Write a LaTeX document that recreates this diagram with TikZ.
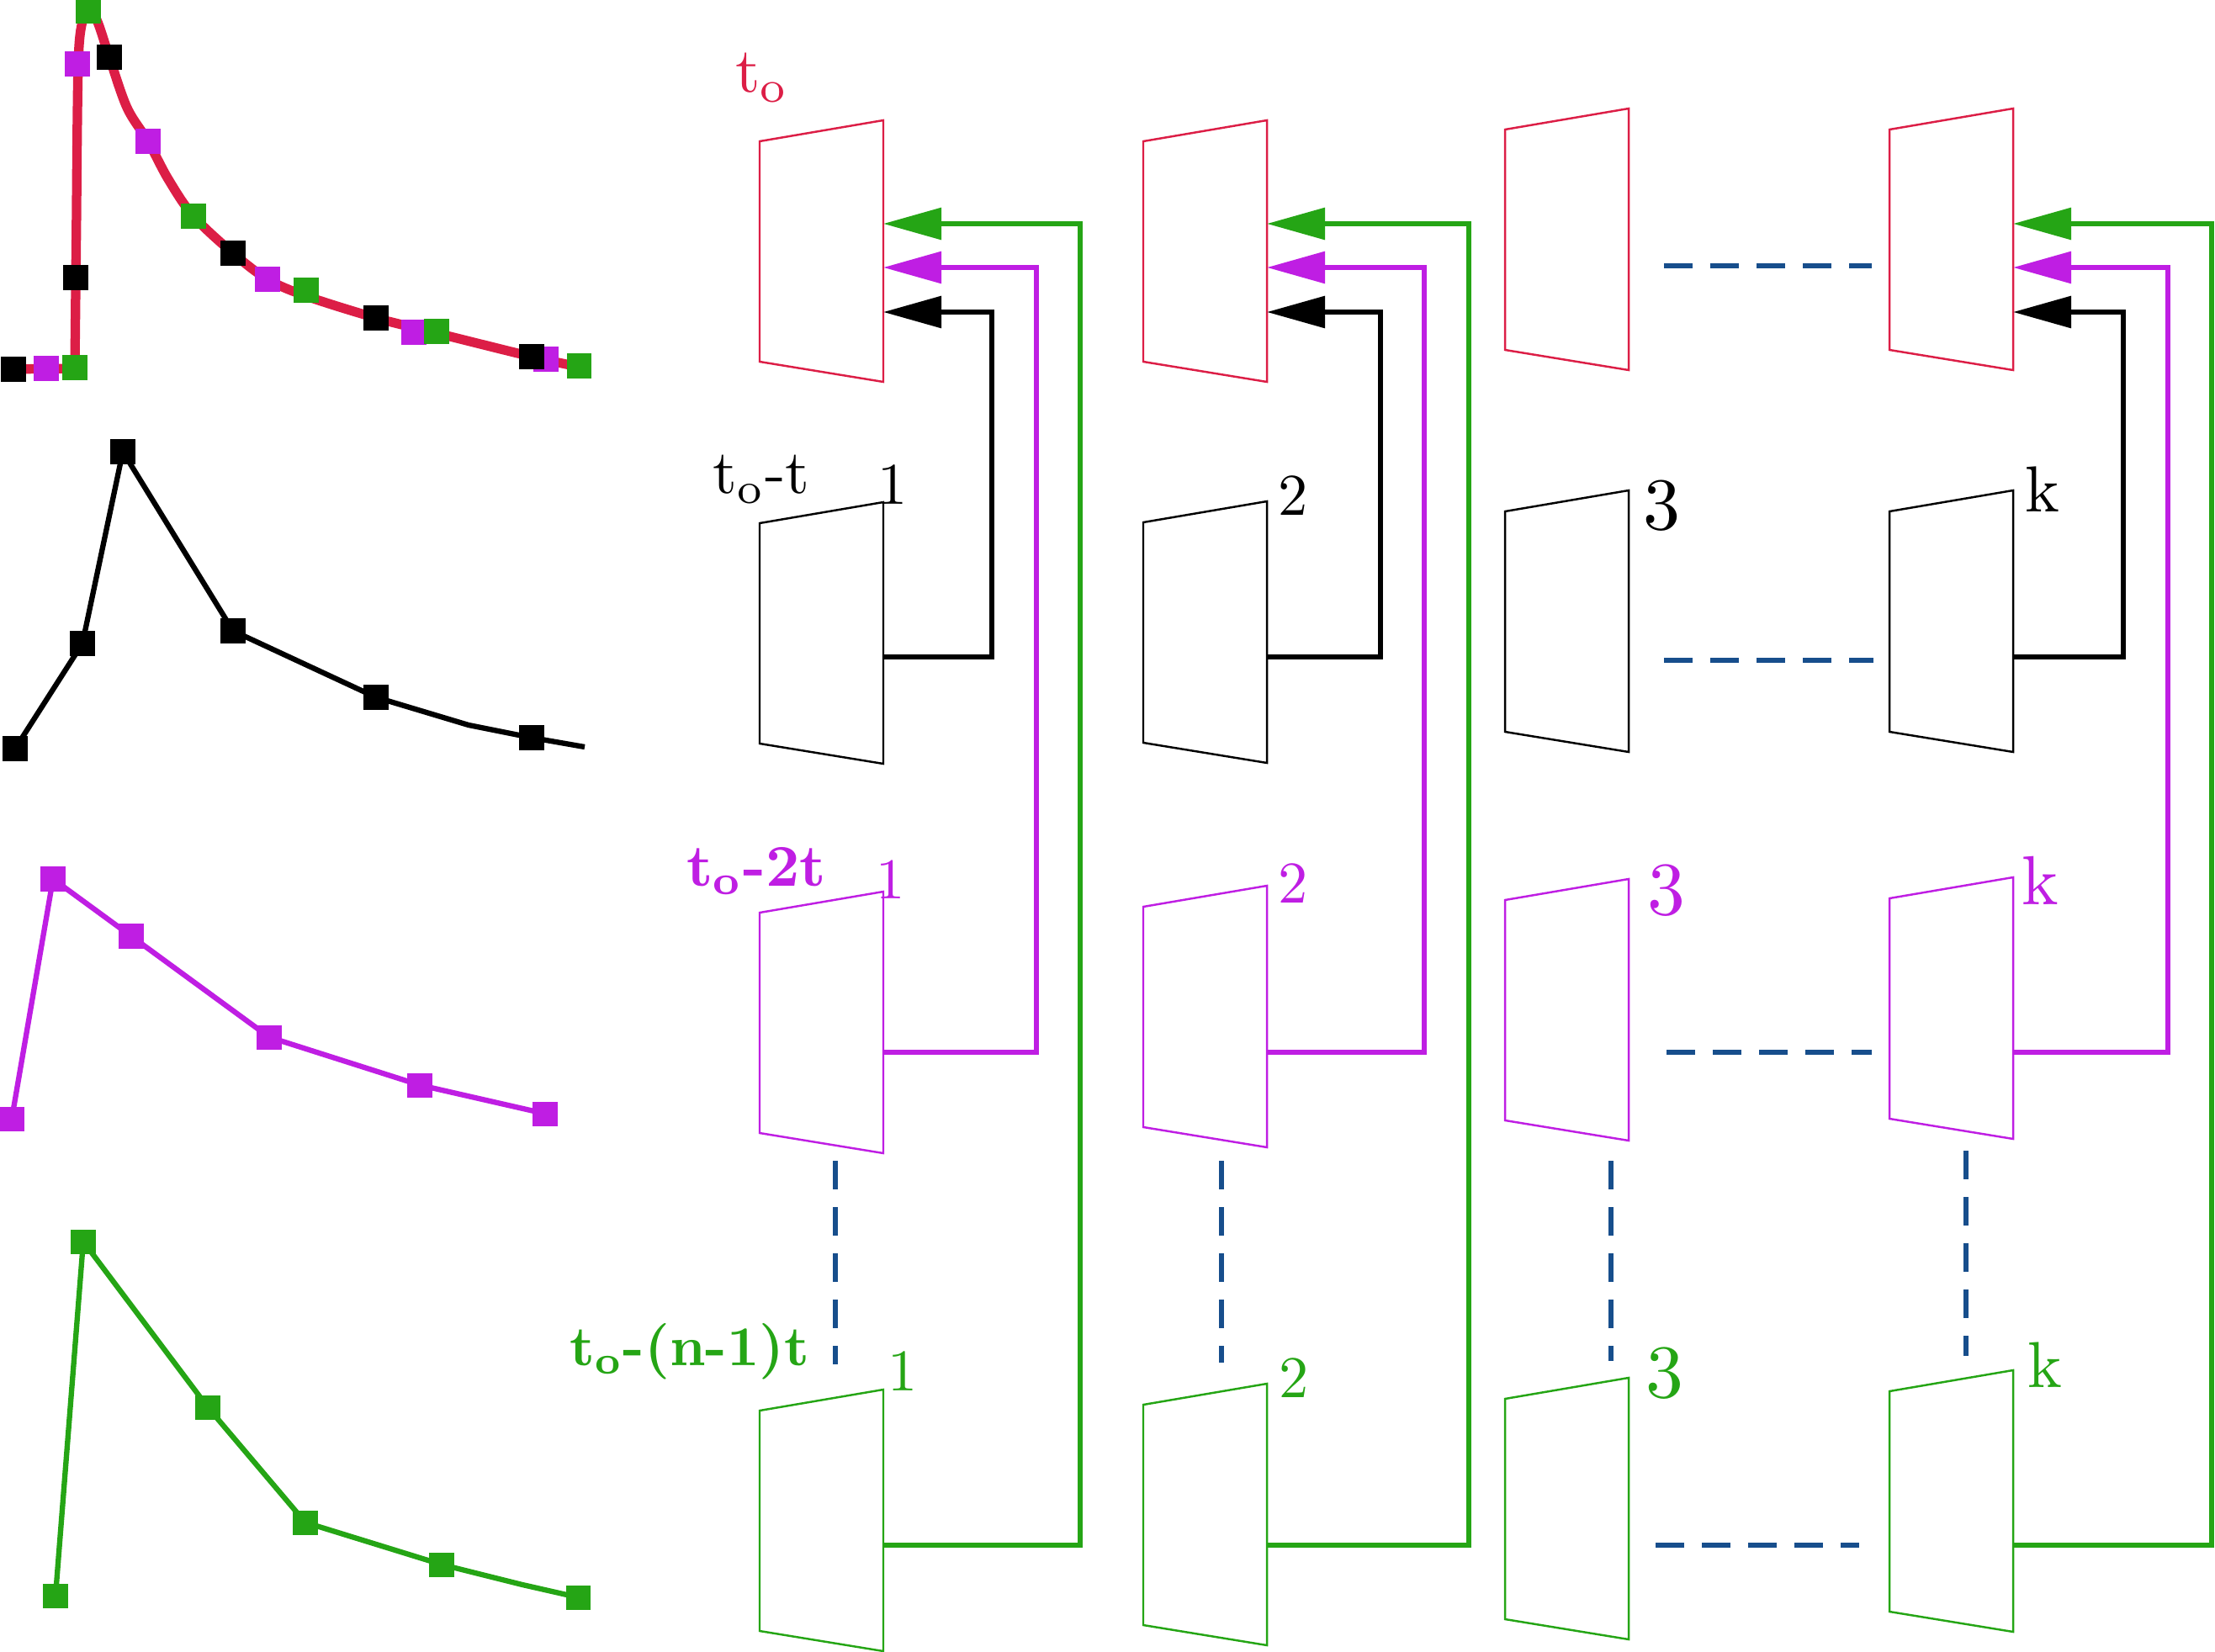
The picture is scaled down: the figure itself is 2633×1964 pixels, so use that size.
\documentclass[tikz,border=0pt]{standalone}
\usetikzlibrary{arrows.meta}
\definecolor{cred}{HTML}{DC1E46}
\definecolor{cpur}{HTML}{BF1EE3}
\definecolor{cgrn}{HTML}{25A515}
\definecolor{cblu}{HTML}{174E8C}
\newcommand\trapz[4]{%
  \draw[trap,#4] (#2,#3) coordinate (#1-lt) -- (#2+147,#3-25) coordinate (#1-rt)
    -- (#2+147,#3+286) coordinate (#1-rb) -- (#2,#3+262) coordinate (#1-lb) -- cycle;}
\begin{document}
\begin{tikzpicture}[x=0.01cm,y=-0.01cm,
  trap/.style={line width=0.7pt, line join=miter},
  conn/.style={line width=1.7pt},
  tip/.style={-{Triangle[length=6.9mm,width=3.7mm]}},
  dsh/.style={cblu, line width=1.7pt, dash pattern=on 3.4mm off 2.1mm},
  mk/.style={rectangle, minimum size=2.9mm, inner sep=0pt, draw=none},
  lab/.style={inner sep=0pt, anchor=base west, font=\fontsize{10}{12}\selectfont},
  pl/.style={line width=1.8pt, line join=round},
]
\useasboundingbox (0,0) rectangle (2633,1964);

% ---------------- left plots ----------------
% plot 1 (red curve)
\draw[cred, line width=3.2pt, line join=round]
  (5,439) -- (89,438) -- (91,250)
  plot[smooth, tension=0.55] coordinates {(91,250) (93,76) (98,25) (106,11) (116,26) (130,68) (151,128) (176,168) (200,213) (230,257) (277,301) (318,332) (364,352) (447,378) (519,396) (632,424) (688,436)};
\foreach \n/\p in {a1/{(55,438)}, a2/{(92,76)}, a3/{(176,168)}, a4/{(318,332)}, a5/{(492,395)}, a6/{(649,427)}}
  \node[mk, fill=cpur] (p1\n) at \p {};
\foreach \n/\p in {a1/{(89,437)}, a2/{(105,13)}, a3/{(230,257)}, a4/{(364,345)}, a5/{(519,394)}, a6/{(688,435)}}
  \node[mk, fill=cgrn] (g1\n) at \p {};
\foreach \n/\p in {a1/{(16,439)}, a2/{(90,330)}, a3/{(130,68)}, a4/{(277,301)}, a5/{(447,378)}, a6/{(632,424)}}
  \node[mk, fill=black] (b1\n) at \p {};

% plot 2 (black)
\coordinate (k1) at (18,890);
\coordinate (k2) at (98,765);
\coordinate (k3) at (146,537);
\coordinate (k4) at (277,750);
\coordinate (k5) at (447,829);
\coordinate (k6) at (632,877);
\coordinate (kb) at (557,862);
\coordinate (ke) at (695,888);
\draw[pl, black] (k1) -- (k2) -- (k3) -- (k4) -- (k5) -- (kb) -- (k6) -- (ke);
\foreach \n in {k1,k2,k3,k4,k5,k6} \node[mk, fill=black] (m\n) at (\n) {};

% plot 3 (purple)
\coordinate (q1) at (14,1330);
\coordinate (q2) at (63,1045);
\coordinate (q3) at (156,1113);
\coordinate (q4) at (320,1233);
\coordinate (q5) at (499,1290);
\coordinate (q6) at (648,1324);
\draw[pl, cpur] (q1) -- (q2) -- (q3) -- (q4) -- (q5) -- (q6);
\foreach \n in {q1,q2,q3,q4,q5,q6} \node[mk, fill=cpur] (m\n) at (\n) {};

% plot 4 (green)
\coordinate (r1) at (66,1897);
\coordinate (r2) at (99,1476);
\coordinate (r3) at (247,1673);
\coordinate (r4) at (363,1810);
\coordinate (r5) at (525,1860);
\coordinate (r6) at (687,1899);
\coordinate (rb) at (621,1884);
\draw[pl, cgrn] (r1) -- (r2) -- (r3) -- (r4) -- (r5) -- (rb) -- (r6);
\foreach \n in {r1,r2,r3,r4,r5,r6} \node[mk, fill=cgrn] (m\n) at (\n) {};

% ---------------- trapezoids ----------------
\trapz{R1}{903}{168}{cred}
\trapz{R2}{1359}{168}{cred}
\trapz{R3}{1789}{154}{cred}
\trapz{R4}{2246}{154}{cred}
\trapz{B1}{903}{622}{black}
\trapz{B2}{1359}{621}{black}
\trapz{B3}{1789}{608}{black}
\trapz{B4}{2246}{608}{black}
\trapz{P1}{903}{1085}{cpur}
\trapz{P2}{1359}{1078}{cpur}
\trapz{P3}{1789}{1070}{cpur}
\trapz{P4}{2246}{1068}{cpur}
\trapz{G1}{903}{1677}{cgrn}
\trapz{G2}{1359}{1670}{cgrn}
\trapz{G3}{1789}{1663}{cgrn}
\trapz{G4}{2246}{1654}{cgrn}

% ---------------- connectors ----------------
\foreach \c/\R/\db/\dp/\dg in {1/1050/129/182/234, 2/1506/135/187/240, 4/2393/131/184/236} {
  \coordinate (ig\c) at (\R,266);
  \coordinate (ip\c) at (\R,318);
  \coordinate (ib\c) at (\R,371);
  \coordinate (ob\c) at (\R,781);
  \coordinate (op\c) at (\R,1251);
  \coordinate (og\c) at (\R,1837);
  \draw[conn, black, tip] (ob\c) -- ++(\db,0) |- (ib\c);
  \draw[conn, cpur, tip] (op\c) -- ++(\dp,0) |- (ip\c);
  \draw[conn, cgrn, tip] (og\c) -- ++(\dg,0) |- (ig\c);
}

% ---------------- dashed lines ----------------
\coordinate (hr1) at (1978,316);  \coordinate (hr2) at (2225,316);
\coordinate (hb1) at (1978,785);  \coordinate (hb2) at (2227,785);
\coordinate (hp1) at (1981,1251); \coordinate (hp2) at (2225,1251);
\coordinate (hg1) at (1968,1837); \coordinate (hg2) at (2210,1837);
\draw[dsh] (hr1) -- (hr2);
\draw[dsh] (hb1) -- (hb2);
\draw[dsh] (hp1) -- (hp2);
\draw[dsh] (hg1) -- (hg2);
\coordinate (v1a) at (993,1380);  \coordinate (v1b) at (993,1622);
\coordinate (v2a) at (1452,1380); \coordinate (v2b) at (1452,1620);
\coordinate (v3a) at (1915,1380); \coordinate (v3b) at (1915,1618);
\coordinate (v4a) at (2337,1368); \coordinate (v4b) at (2337,1612);
\draw[dsh] (v1a) -- (v1b);
\draw[dsh] (v2a) -- (v2b);
\draw[dsh] (v3a) -- (v3b);
\draw[dsh] (v4a) -- (v4b);

% ---------------- labels ----------------
\node[lab, cred, scale=2.15] (l0) at (873,110) {t\textsubscript{o}};
\node[lab, black, scale=2.1] (l1) at (846,587) {t\textsubscript{o}-t};
\node[lab, cpur, scale=2.0, font=\fontsize{10}{12}\selectfont\bfseries] (l2) at (815,1053) {t\textsubscript{o}-2t};
\node[lab, cgrn, scale=1.9, font=\fontsize{10}{12}\selectfont\bfseries] (l3) at (676,1623) {t\textsubscript{o}-(n-1)t};

\node[lab, black, scale=2.0] (nb1) at (1042,600) {1};
\node[lab, black, scale=2.0] (nb2) at (1518,613) {2};
\node[lab, black, scale=2.5] (nb3) at (1952,629) {3};
\node[lab, black, scale=2.2] (nb4) at (2406,608) {k};
\node[lab, cpur, scale=1.95] (np1) at (1040,1068) {1};
\node[lab, cpur, scale=2.0] (np2) at (1518,1073) {2};
\node[lab, cpur, scale=2.55] (np3) at (1957,1087) {3};
\node[lab, cpur, scale=2.35] (np4) at (2402,1075) {k};
\node[lab, cgrn, scale=2.0] (ng1) at (1054,1653) {1};
\node[lab, cgrn, scale=2.0] (ng2) at (1519,1661) {2};
\node[lab, cgrn, scale=2.55] (ng3) at (1955,1661) {3};
\node[lab, cgrn, scale=2.2] (ng4) at (2409,1649) {k};
\end{tikzpicture}
\end{document}
